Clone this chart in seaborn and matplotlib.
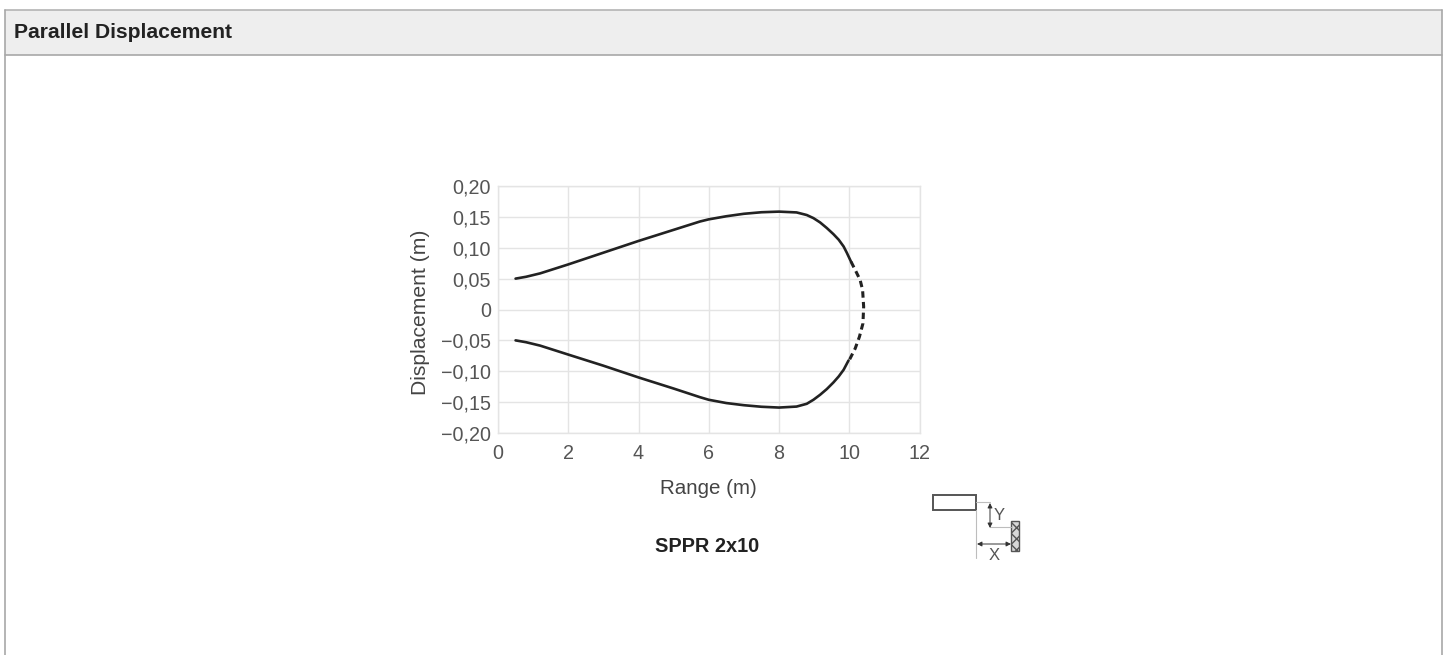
import matplotlib
matplotlib.use('Agg')
import matplotlib.pyplot as plt
from matplotlib.patches import Rectangle
import pandas as pd
import seaborn as sns

W, H = 1450, 655

upper_x = [0.5, 0.8, 1.2, 2, 3, 4, 5, 5.75, 6, 6.5, 7, 7.5, 8, 8.5, 8.79, 8.98, 9.17, 9.36, 9.55, 9.7, 9.84, 9.93, 10.05]
upper_y = [0.050, 0.053, 0.0585, 0.073, 0.092, 0.111, 0.129, 0.1425, 0.146, 0.151, 0.155, 0.1575, 0.1585, 0.1572, 0.153, 0.148, 0.141, 0.132, 0.122, 0.113, 0.102, 0.092, 0.0775]
lower_x = [0.5, 0.8, 1.2, 2, 3, 4, 5, 5.75, 6, 6.5, 7, 7.5, 8, 8.5, 8.79, 8.98, 9.17, 9.36, 9.55, 9.7, 9.84, 9.98]
lower_y = [-0.050, -0.053, -0.0585, -0.073, -0.091, -0.110, -0.128, -0.142, -0.1462, -0.1515, -0.155, -0.1575, -0.1588, -0.1572, -0.1527, -0.1462, -0.1381, -0.1289, -0.1181, -0.1084, -0.0976, -0.0825]
tip_x = [10.05, 10.17, 10.31, 10.38, 10.41, 10.39, 10.29, 10.17, 10.0]
tip_y = [0.0775, 0.064, 0.0478, 0.0316, 0.0045, -0.0225, -0.0441, -0.063, -0.082]

x_ticks = [0, 2, 4, 6, 8, 10, 12]
y_ticks = [0.20, 0.15, 0.10, 0.05, 0, -0.05, -0.10, -0.15, -0.20]
y_labels = ['0,20', '0,15', '0,10', '0,05', '0', '−0,05', '−0,10', '−0,15', '−0,20']

sns.set_theme(style='white')
plt.rcParams['font.family'] = ['Liberation Sans', 'DejaVu Sans']

fig = plt.figure(figsize=(W / 100, H / 100), dpi=100, facecolor='white')

# page layer in pixel coordinates
page = fig.add_axes([0, 0, 1, 1], zorder=0)
page.set_xlim(0, W)
page.set_ylim(H, 0)
page.axis('off')
page.add_patch(Rectangle((5, 10), 1437, 45, facecolor='#eeeeee', edgecolor='none'))
page.plot([5, 1442], [10, 10], color='#b4b4b4', lw=1.2)
page.plot([5, 1442], [55, 55], color='#a8a8a8', lw=1.2)
page.plot([5, 5], [10, H], color='#a8a8a8', lw=1.2)
page.plot([1442, 1442], [10, H], color='#a8a8a8', lw=1.2)
page.text(14, 32, 'Parallel Displacement', fontsize=15.2, fontweight='bold',
          color='#222222', va='center', ha='left')

page.text(707, 546, 'SPPR 2x10', fontsize=14.4, fontweight='bold', color='#222222',
          ha='center', va='center')

# small X/Y sketch
grey = '#bdbdbd'
page.plot([976, 990], [502, 502], color=grey, lw=0.8)
page.plot([976, 976], [510, 558], color=grey, lw=0.8)
page.plot([990, 1011], [527, 527], color=grey, lw=0.8)
page.add_patch(Rectangle((933, 495), 43, 15, facecolor='white', edgecolor='#555555', lw=1.4))
page.add_patch(Rectangle((1011, 521), 8, 30, facecolor='#d8d8d8', edgecolor='#555555',
                         lw=1.0, hatch='xxx'))
page.annotate('', xy=(990, 503), xytext=(990, 528),
              arrowprops=dict(arrowstyle='<|-|>', color='#333333', lw=0.7, mutation_scale=7, shrinkA=0, shrinkB=0))
page.annotate('', xy=(977, 544), xytext=(1011, 544),
              arrowprops=dict(arrowstyle='<|-|>', color='#333333', lw=0.7, mutation_scale=7, shrinkA=0, shrinkB=0))
page.text(999, 516, 'Y', fontsize=12, color='#555555', ha='center', va='center')
page.text(994, 555, 'X', fontsize=12, color='#555555', ha='center', va='center')

# chart
ax = fig.add_axes([498 / W, 1 - 433 / H, 421.5 / W, 247 / H], zorder=1)
ax.patch.set_alpha(0)
solid = pd.DataFrame({'x': upper_x, 'y': upper_y})
solid_low = pd.DataFrame({'x': lower_x, 'y': lower_y})
tip = pd.DataFrame({'x': tip_x, 'y': tip_y})
sns.lineplot(data=solid, x='x', y='y', color='#222222', lw=1.9, sort=False, estimator=None, ax=ax)
sns.lineplot(data=solid_low, x='x', y='y', color='#222222', lw=1.9, sort=False, estimator=None, ax=ax)
sns.lineplot(data=tip, x='x', y='y', color='#222222', lw=2.2, sort=False, estimator=None, ax=ax,
             linestyle=(0, (2.1, 1.4)))

ax.set_xlim(0, 12)
ax.set_ylim(-0.20, 0.20)
ax.set_xticks(x_ticks)
ax.set_yticks(y_ticks)
ax.set_yticklabels(y_labels)
ax.grid(True, color='#e4e4e4', lw=1.0)
ax.set_axisbelow(True)
for s in ax.spines.values():
    s.set_color('#e4e4e4')
    s.set_linewidth(1.0)
ax.tick_params(axis='both', length=0, labelsize=14.2, labelcolor='#555555')
ax.tick_params(axis='y', pad=5)
ax.tick_params(axis='x', pad=8)
ax.set_xlabel('Range (m)', fontsize=14.8, color='#444444', va='center')
ax.set_ylabel('Displacement (m)', fontsize=15.2, color='#444444', va='center')
ax.xaxis.set_label_coords(0.5, -0.226)
ax.yaxis.set_label_coords(-0.183, 0.49)

fig.savefig('out.png', dpi=100)
